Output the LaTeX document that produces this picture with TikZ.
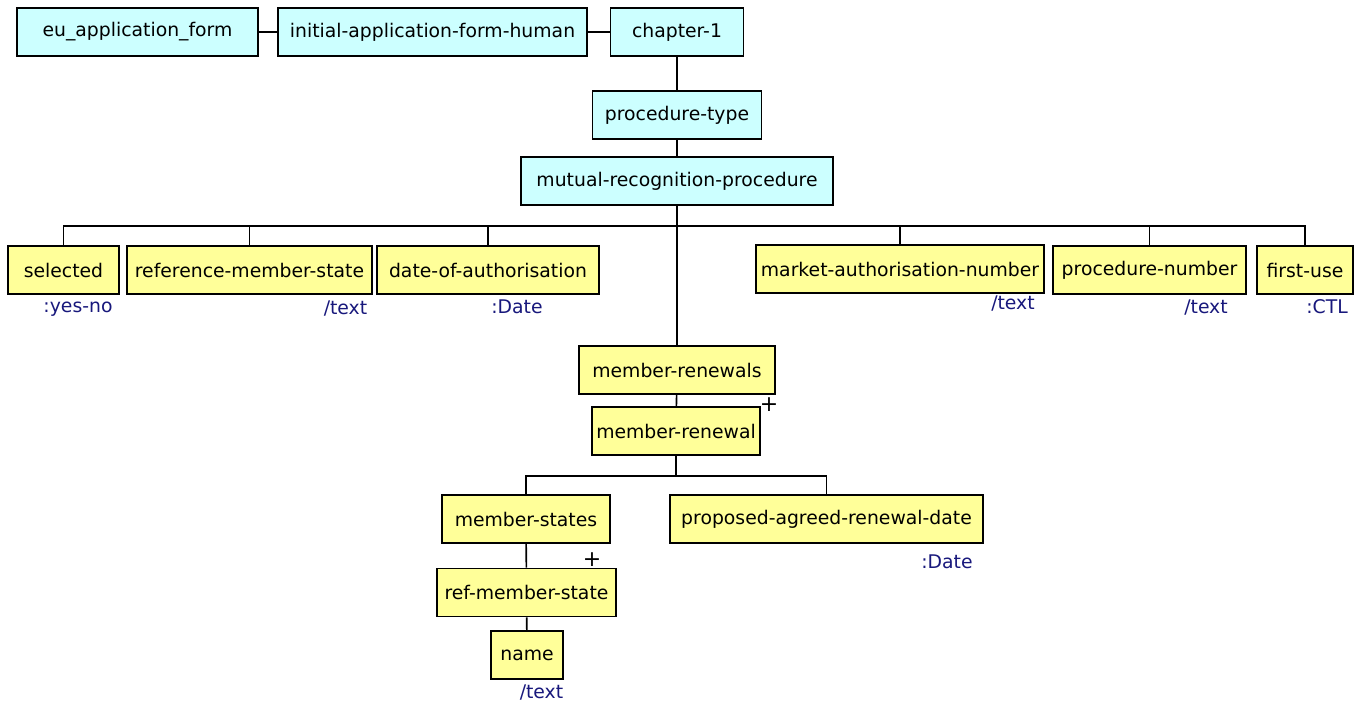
\documentclass[tikz,border=0pt]{standalone}
\usepackage{fontspec}
\setmainfont{DejaVu Sans}
\usepackage{tikz}
\definecolor{headcyan}{HTML}{CCFFFF}
\definecolor{leafyellow}{HTML}{FFFF99}
\definecolor{kindblue}{RGB}{24,24,124}
\begin{document}
\begin{tikzpicture}[x=1pt,y=-1pt,font=\fontsize{18.8}{22}\selectfont]
\tikzstyle{elem}=[draw,line width=1.6pt,minimum height=48pt,inner sep=0pt]
\tikzstyle{head}=[elem,fill=headcyan]
\tikzstyle{leaf}=[elem,fill=leafyellow]
\tikzstyle{kind}=[text=kindblue,inner sep=0pt]
\tikzstyle{many}=[inner sep=0pt,font=\fontsize{22}{22}\selectfont]
\tikzstyle{link}=[line width=1.6pt]
\useasboundingbox[fill=white] (0,0) rectangle (1365,704);
\node[head,minimum width=241pt] (form) at (137.5,32) {eu\_application\_form};
\node[head,minimum width=309pt] (initial) at (432.5,32) {initial-application-form-human};
\node[head,minimum width=133pt] (chapter) at (677,32) {chapter-1};
\node[head,minimum width=169pt] (proctype) at (677,115) {procedure-type};
\node[head,minimum width=312pt] (mutual) at (677,181) {mutual-recognition-procedure};
\node[leaf,minimum width=111pt] (selected) at (63.5,270) {selected};
\node[leaf,minimum width=245pt] (refstate) at (249.5,270) {reference-member-state};
\node[leaf,minimum width=222pt] (authdate) at (488,270) {date-of-authorisation};
\node[leaf,minimum width=288pt] (marketno) at (900,269) {market-authorisation-number};
\node[leaf,minimum width=193pt] (procno) at (1149.5,270) {procedure-number};
\node[leaf,minimum width=96pt] (firstuse) at (1305,270) {first-use};
\node[leaf,minimum width=196pt] (renewals) at (677,370) {member-renewals};
\node[leaf,minimum width=168pt] (renewal) at (676,431) {member-renewal};
\node[leaf,minimum width=168pt] (states) at (526,519) {member-states};
\node[leaf,minimum width=313pt] (propdate) at (826.5,519) {proposed-agreed-renewal-date};
\node[leaf,minimum width=179pt] (refmember) at (526.5,592.5) {ref-member-state};
\node[leaf,minimum width=72pt] (name) at (527,655) {name};
\node[kind] (selectedkind) at (78,309) {:yes-no};
\node[kind] (refstatekind) at (345.5,309) {/text};
\node[kind] (authdatekind) at (517,307) {:Date};
\node[kind] (marketnokind) at (1013,304) {/text};
\node[kind] (procnokind) at (1206,308) {/text};
\node[kind] (firstusekind) at (1327,307) {:CTL};
\node[kind] (propdatekind) at (947,562) {:Date};
\node[kind] (namekind) at (541.5,693) {/text};
\node[many] (renewalmany) at (769,405) {+};
\node[many] (refmembermany) at (592,560) {+};
\coordinate (bus) at ([yshift=-20pt]mutual.south);
\coordinate (renewalbus) at ([yshift=-20pt]renewal.south);
\draw[link] (form) -- (initial);
\draw[link] (initial) -- (chapter);
\draw[link] (chapter) -- (proctype);
\draw[link] (proctype) -- (mutual);
\draw[link] (mutual.south) -- (renewals.north);
\draw[link] (bus) -| (selected.north);
\draw[link] (bus) -| (refstate.north);
\draw[link] (bus) -| (authdate.north);
\draw[link] (bus) -| (marketno.north);
\draw[link] (bus) -| (procno.north);
\draw[link] (bus) -| (firstuse.north);
\draw[link] (renewals) -- (renewal);
\draw[link] (renewal.south) -- (renewalbus);
\draw[link] (renewalbus) -| (states.north);
\draw[link] (renewalbus) -| (propdate.north);
\draw[link] (states) -- (refmember);
\draw[link] (refmember) -- (name);
\end{tikzpicture}
\end{document}
